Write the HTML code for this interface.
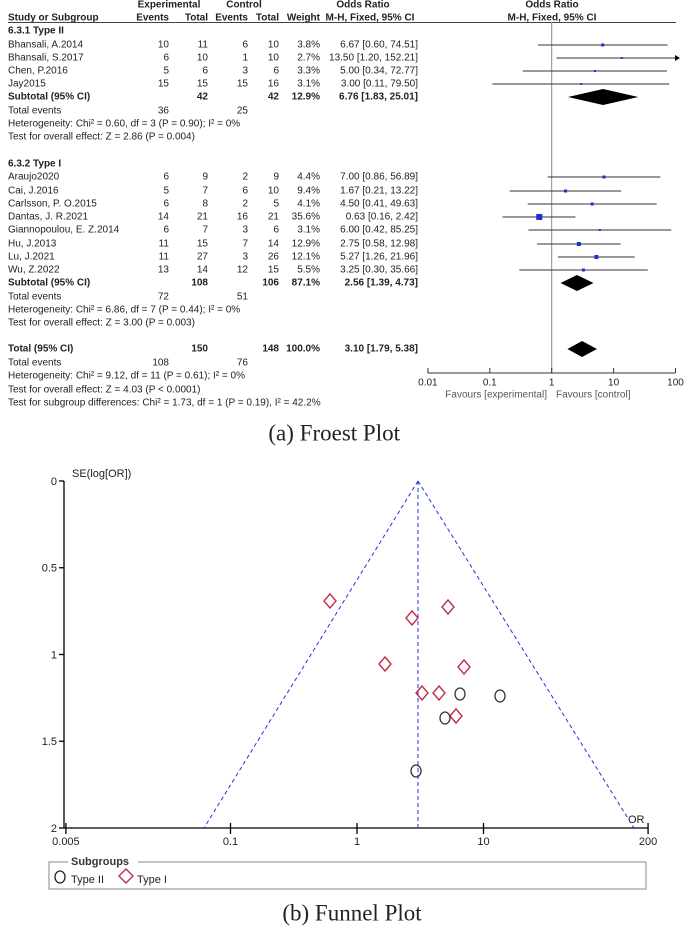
<!DOCTYPE html>
<html><head><meta charset="utf-8"><style>
body{margin:0;background:#fff;}
svg{display:block}
</style></head><body>
<svg id="s" width="685" height="929" xmlns="http://www.w3.org/2000/svg"></svg>
<script>
const s=document.getElementById('s');let h='';
function t(x,y,str,o={}){h+=`<text x="${x}" y="${y}" font-size="${o.fs||10}" fill="${o.c||'#222'}" text-anchor="${o.a||'start'}" font-weight="${o.b?'bold':'normal'}" style="font-family:${o.f||'\'Liberation Sans\', Arial, sans-serif'}" dominant-baseline="middle">${str}</text>`;}
function L(x1,y1,x2,y2,c='#333',w=1,d=''){h+=`<line x1="${x1}" y1="${y1}" x2="${x2}" y2="${y2}" stroke="${c}" stroke-width="${w}" ${d?`stroke-dasharray="${d}"`:''}/>`;}
// headers
t(169,5,'Experimental',{a:'middle',b:1});t(244,5,'Control',{a:'middle',b:1});
t(363,5,'Odds Ratio',{a:'middle',b:1});t(552,5,'Odds Ratio',{a:'middle',b:1});
t(8,18,'Study or Subgroup',{b:1});t(169,18,'Events',{a:'end',b:1});t(208,18,'Total',{a:'end',b:1});
t(248,18,'Events',{a:'end',b:1});t(279,18,'Total',{a:'end',b:1});t(320,18,'Weight',{a:'end',b:1});
t(370,18,'M-H, Fixed, 95% CI',{a:'middle',b:1});t(552,18,'M-H, Fixed, 95% CI',{a:'middle',b:1});
L(8,22.5,676,22.5,'#444',1);
const X=v=>551.7+Math.log10(v)*61.9;
L(551.7,22,551.7,373,'#888',1);
function row(y,n,a,b,c,d,w,or,lo,hi,sz){t(8,y,n);t(169,y,a,{a:'end'});t(208,y,b,{a:'end'});t(248,y,c,{a:'end'});t(279,y,d,{a:'end'});t(320,y,w,{a:'end'});
t(418,y,`${or.toFixed(2)} [${lo.toFixed(2)}, ${hi.toFixed(2)}]`,{a:'end'});
let x2=Math.min(X(hi),675);L(X(lo),y,x2,y,'#333',1);if(X(hi)>675)h+=`<polygon points="675,${y-3} 680,${y} 675,${y+3}" fill="#000"/>`;
h+=`<rect x="${X(or)-sz/2}" y="${y-sz/2}" width="${sz}" height="${sz}" fill="#1f2fd6"/>`;}
function sub(y,n,a,b,w,or,lo,hi){t(8,y,n,{b:1});t(208,y,a,{a:'end',b:1});t(279,y,b,{a:'end',b:1});t(320,y,w,{a:'end',b:1});t(418,y,`${or.toFixed(2)} [${lo.toFixed(2)}, ${hi.toFixed(2)}]`,{a:'end',b:1});
h+=`<polygon points="${X(lo)},${y} ${X(or)},${y-8} ${X(hi)},${y} ${X(or)},${y+8}" fill="#000"/>`;}
t(8,31,'6.3.1 Type II',{b:1});
row(45,'Bhansali, A.2014',10,11,6,10,'3.8%',6.67,0.60,74.51,3);
row(58,'Bhansali, S.2017',6,10,1,10,'2.7%',13.50,1.20,152.21,2);
row(71,'Chen, P.2016',5,6,3,6,'3.3%',5.00,0.34,72.77,2);
row(84,'Jay2015',15,15,15,16,'3.1%',3.00,0.11,79.50,2);
sub(97,'Subtotal (95% CI)',42,42,'12.9%',6.76,1.83,25.01);
t(8,111,'Total events');t(169,111,'36',{a:'end'});t(248,111,'25',{a:'end'});
t(8,124,'Heterogeneity: Chi² = 0.60, df = 3 (P = 0.90); I² = 0%');
t(8,137,'Test for overall effect: Z = 2.86 (P = 0.004)');
t(8,164,'6.3.2 Type I',{b:1});
row(177,'Araujo2020',6,9,2,9,'4.4%',7.00,0.86,56.89,3);
row(191,'Cai, J.2016',5,7,6,10,'9.4%',1.67,0.21,13.22,3);
row(204,'Carlsson, P. O.2015',6,8,2,5,'4.1%',4.50,0.41,49.63,3);
row(217,'Dantas, J. R.2021',14,21,16,21,'35.6%',0.63,0.16,2.42,6);
row(230,'Giannopoulou, E. Z.2014',6,7,3,6,'3.1%',6.00,0.42,85.25,2);
row(244,'Hu, J.2013',11,15,7,14,'12.9%',2.75,0.58,12.98,4);
row(257,'Lu, J.2021',11,27,3,26,'12.1%',5.27,1.26,21.96,4);
row(270,'Wu, Z.2022',13,14,12,15,'5.5%',3.25,0.30,35.66,3);
sub(283,'Subtotal (95% CI)',108,106,'87.1%',2.56,1.39,4.73);
t(8,297,'Total events');t(169,297,'72',{a:'end'});t(248,297,'51',{a:'end'});
t(8,310,'Heterogeneity: Chi² = 6.86, df = 7 (P = 0.44); I² = 0%');
t(8,323,'Test for overall effect: Z = 3.00 (P = 0.003)');
sub(349,'Total (95% CI)',150,148,'100.0%',3.10,1.79,5.38);
t(8,363,'Total events');t(169,363,'108',{a:'end'});t(248,363,'76',{a:'end'});
t(8,376,'Heterogeneity: Chi² = 9.12, df = 11 (P = 0.61); I² = 0%');
t(8,390,'Test for overall effect: Z = 4.03 (P < 0.0001)');
t(8,403,'Test for subgroup differences: Chi² = 1.73, df = 1 (P = 0.19), I² = 42.2%');
// forest axis
L(427.7,373,675.3,373,'#333',1);
[[0.01,'0.01'],[0.1,'0.1'],[1,'1'],[10,'10'],[100,'100']].forEach(([v,l])=>{L(X(v),368,X(v),373);t(X(v),383,l,{a:'middle',fs:10});});
t(547,395,'Favours [experimental]',{a:'end',fs:10,c:'#555'});t(556,395,'Favours [control]',{fs:10,c:'#555'});
t(400,435,'(a) Froest Plot',{a:'end',fs:23,f:"'Liberation Serif', serif",c:'#222'});
// funnel
const FX=v=>357+Math.log10(v)*126.5, FY=se=>481+se*173.5;
L(64,481,64,828,'#000',1.3);L(64,828,648,828,'#000',1.3);
[[0,'0'],[0.5,'0.5'],[1,'1'],[1.5,'1.5'],[2,'2']].forEach(([v,l])=>{L(59,FY(v),64,FY(v),'#000',1.3);t(57,FY(v)+1,l,{a:'end',fs:11});});
[[0.005,'0.005'],[0.1,'0.1'],[1,'1'],[10,'10'],[200,'200']].forEach(([v,l])=>{L(FX(v),823,FX(v),834,'#000',1.3);t(FX(v),842,l,{a:'middle',fs:11});});
t(72,474,'SE(log[OR])',{fs:11});t(628,820,'OR',{fs:11});
L(418,481,204,828,'#2233dd',1,'4,3');L(418,481,634,828,'#2233dd',1,'4,3');L(418,481,418,828,'#2233dd',1,'4,3');
[[330,601],[448,607],[412,618],[385,664],[464,667],[422,693],[439,693],[456,716]].forEach(([x,y])=>{h+=`<polygon points="${x},${y-7} ${x+6},${y} ${x},${y+7} ${x-6},${y}" fill="none" stroke="#c0304a" stroke-width="1.4"/>`;});
[[460,694],[500,696],[445,718],[416,771]].forEach(([x,y])=>{h+=`<ellipse cx="${x}" cy="${y}" rx="5" ry="6" fill="none" stroke="#333" stroke-width="1.3"/>`;});
h+=`<rect x="49" y="862" width="597" height="27" fill="none" stroke="#888" stroke-width="1"/>`;
h+=`<rect x="68" y="856" width="70" height="12" fill="#fff"/>`;
t(71,862,'Subgroups',{b:1,fs:11,c:'#333'});
h+=`<ellipse cx="60" cy="877" rx="5" ry="6" fill="none" stroke="#222" stroke-width="1.3"/>`;
t(71,880,'Type II',{fs:11});
h+=`<polygon points="126,869 133,876 126,883 119,876" fill="none" stroke="#c0304a" stroke-width="1.4"/>`;
t(137,880,'Type I',{fs:11});
t(352,915,'(b)  Funnel Plot',{a:'middle',fs:23,f:"'Liberation Serif', serif"});
s.innerHTML=h;
</script>
</body></html>
